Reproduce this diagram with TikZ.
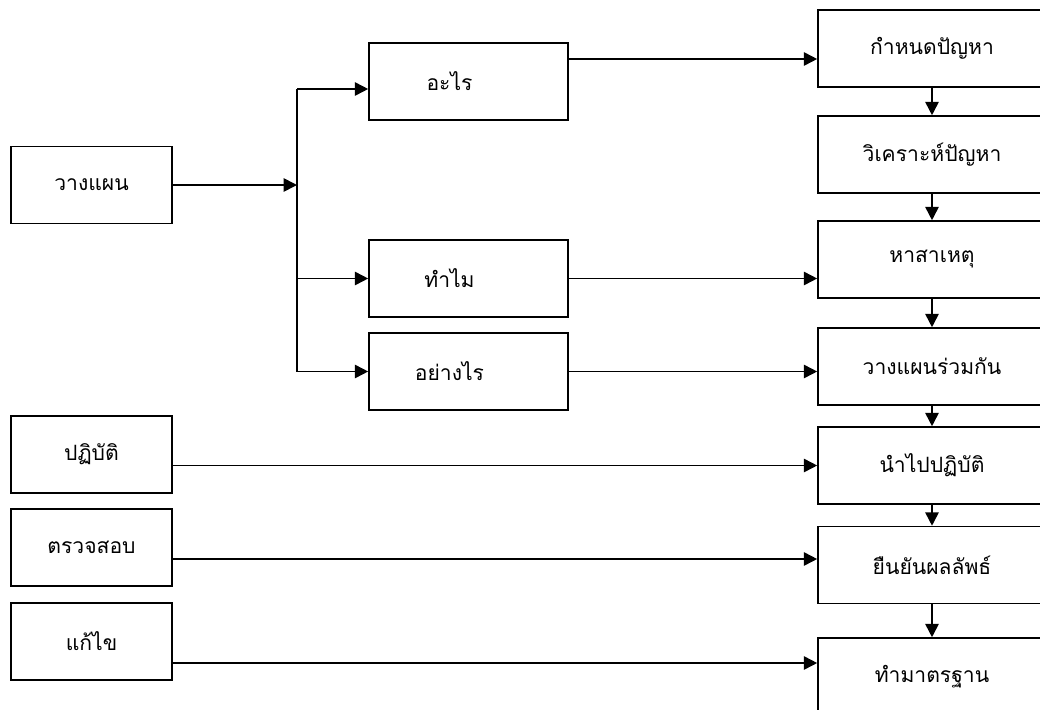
\documentclass[tikz,border=0pt]{standalone}
\usepackage{fontspec}
\newfontfamily\thaifont[Script=Thai]{Loma}
\usetikzlibrary{arrows.meta}

\begin{document}
\begin{tikzpicture}[x=0.025cm, y=-0.025cm, font=\thaifont\fontsize{15}{18}\selectfont,
    box/.style={draw, line width=1.1pt, inner sep=0pt, minimum height=1.925cm},
    leftbox/.style={box, minimum width=4.025cm},
    midbox/.style={box, minimum width=4.975cm},
    rightbox/.style={box, minimum width=5.7cm},
    arr/.style={line width=1.2pt, -{Triangle[length=9.5pt,width=9.5pt]}}]
  \useasboundingbox (0,0) rectangle (1040,710);
  \clip (0,0) rectangle (1040,710);
  % nodes
  \node[leftbox] (plan) at (91.5,185) {วางแผน};
  \node[leftbox] (do) at (91.5,454.5) {ปฏิบัติ};
  \node[leftbox] (check) at (91.5,547.5) {ตรวจสอบ};
  \node[leftbox] (act) at (91.5,641.5) {แก้ไข};
  \node[midbox, label={[xshift=-0.475cm]center:อะไร}] (what) at (468.5,81.5) {};
  \node[midbox, label={[xshift=-0.475cm]center:ทำไม}] (why) at (468.5,278.5) {};
  \node[midbox, label={[xshift=-0.475cm]center:อย่างไร}] (how) at (468.5,371.5) {};
  \node[rightbox] (define) at (932,48.5) {กำหนดปัญหา};
  \node[rightbox] (analyse) at (932,154.5) {วิเคราะห์ปัญหา};
  \node[rightbox] (cause) at (932,259.5) {หาสาเหตุ};
  \node[rightbox] (plantogether) at (932,366.5) {วางแผนร่วมกัน};
  \node[rightbox] (apply) at (932,465.5) {นำไปปฏิบัติ};
  \node[rightbox] (confirm) at (932,565) {ยืนยันผลลัพธ์};
  \node[rightbox] (standard) at (932,676.5) {ทำมาตรฐาน};
  % branch points
  \coordinate (fork) at (297,185);
  \coordinate (forktop) at (297,89);
  \coordinate (forkbot) at (297,371.5);
  \coordinate (whatout) at (568,59);
  \coordinate (checkout) at (172,559);
  \coordinate (actout) at (172,663);
  % lines
  \draw[arr] (plan.east) -- (fork);
  \draw[line width=1.2pt] (forktop) -- (forkbot);
  \draw[arr] (forktop) -- (forktop -| what.west);
  \draw[arr] (fork |- why.west) -- (why.west);
  \draw[arr] (forkbot) -- (how.west);
  \draw[arr] (whatout) -- (whatout -| define.west);
  \draw[arr] (why.east) -- (why.east -| cause.west);
  \draw[arr] (how.east) -- (how.east -| plantogether.west);
  \draw[arr] (do.east |- apply.west) -- (apply.west);
  \draw[arr] (checkout) -- (checkout -| confirm.west);
  \draw[arr] (actout) -- (actout -| standard.west);
  \foreach \a/\b in {define/analyse, analyse/cause, cause/plantogether,
      plantogether/apply, apply/confirm, confirm/standard}
    \draw[arr] (\a) -- (\b);
\end{tikzpicture}
\end{document}
